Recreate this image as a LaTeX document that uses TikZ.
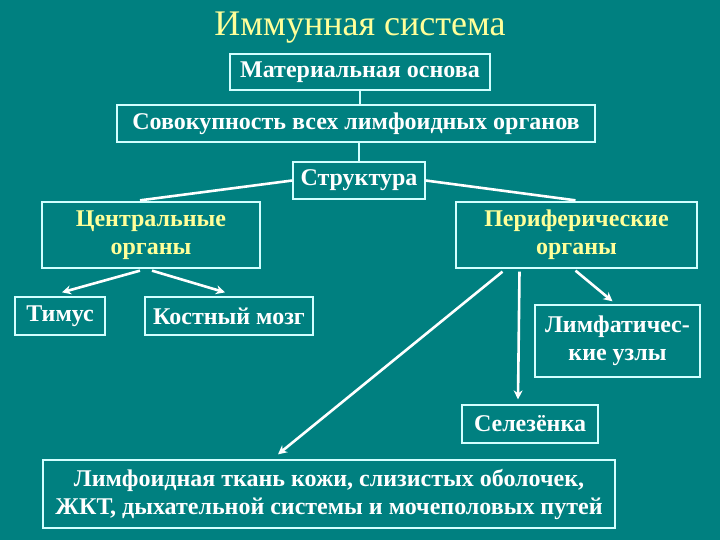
\documentclass[tikz,border=0pt]{standalone}
\usepackage{fontspec}
\setmainfont{Liberation Serif}
\usetikzlibrary{calc,arrows.meta}
\definecolor{bg}{RGB}{0,128,128}
\definecolor{ylw}{RGB}{255,255,153}
\definecolor{edge}{RGB}{210,255,255}
\tikzset{
  box/.style={draw=edge, line width=1.3pt, inner sep=0pt, align=center, text=white, font=\fontsize{24}{28}\selectfont\bfseries},
  link/.style={draw=edge, line width=1.3pt},
  conn/.style={draw=white, line width=2.6pt},
  arr/.style={conn, -{Stealth[length=9pt,width=9pt]}},
}
\begin{document}
\begin{tikzpicture}[x=1pt,y=-1pt]
\fill[bg] (0,0) rectangle (720,540);
\useasboundingbox (0,0) rectangle (720,540);
\node[text=ylw, font=\fontsize{36}{40}\selectfont] (title) at (360,28) {Иммунная система};
\node[box, minimum width=260, minimum height=36] (mat) at (360,72) {Материальная основа};
\node[box, minimum width=478, minimum height=37] (sov) at (356,123.5) {Совокупность всех лимфоидных органов};
\node[box, minimum width=132, minimum height=37] (str) at (359,180.5) {Структура};
\node[box, minimum width=218, minimum height=66, text=ylw] (cen) at (151,235) {Центральные\\органы};
\node[box, minimum width=241, minimum height=66, text=ylw] (per) at (576.5,235) {Периферические\\органы};
\node[box, minimum width=90, minimum height=38] (tim) at (60,316) {Тимус};
\node[box, minimum width=168, minimum height=38] (kos) at (229,316) {Костный мозг};
\node[box, minimum width=165, minimum height=72] (lim) at (617.5,341) {Лимфатичес-\\кие узлы};
\node[box, minimum width=136, minimum height=38] (sel) at (530,424) {Селезёнка};
\node[box, minimum width=572, minimum height=68] (lt) at (329,494) {Лимфоидная ткань кожи, слизистых оболочек,\\ЖКТ, дыхательной системы и мочеполовых путей};
\draw[link] (mat.south) -- (mat.south |- sov.north);
\draw[link] (str.north |- sov.south) -- (str.north);
\draw[conn] (str.west) -- ($(cen.north)+(-11,-1)$);
\draw[conn] (str.east) -- ($(per.north)+(-1,-1)$);
\draw[arr] ($(cen.south)+(-11,2)$) -- ($(tim.north)+(2,-4)$);
\draw[arr] ($(cen.south)+(1,2)$) -- ($(kos.north)+(-4,-4)$);
\draw[arr] ($(per.south)+(-1,2)$) -- ($(lim.north)+(-5,-3)$);
\draw[arr] ($(per.south)+(-57,3)$) -- ($(sel.north)+(-12,-5)$);
\draw[arr] ($(per.south)+(-74,3)$) -- ($(lt.north)+(-51,-5)$);
\end{tikzpicture}
\end{document}
